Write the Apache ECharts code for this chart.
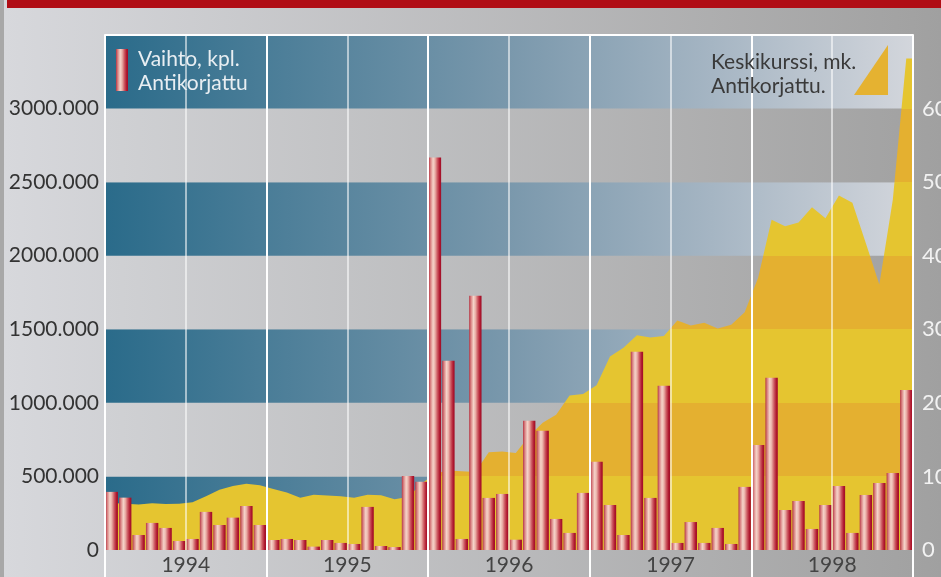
<!DOCTYPE html>
<html><head><meta charset="utf-8">
<script src="https://cdn.jsdelivr.net/npm/echarts@6/dist/echarts.min.js"></script>
<style>
html,body{margin:0;padding:0;width:941px;height:577px;overflow:hidden;}
body{background:linear-gradient(to right,#a8a8a8 0px,#a8a8a8 4px,#d7d8dc 4px,#a2a2a2 913px,#a0a0a0 941px);}
#chart{width:941px;height:577px;}
</style></head><body><div id="chart"></div>
<script>
// ---- data ----
const years = ['1994', '1995', '1996', '1997', '1998'];
const monthNames = ['01','02','03','04','05','06','07','08','09','10','11','12'];
const months = [];
years.forEach(y => monthNames.forEach(m => months.push(y + '-' + m)));

// Vaihto, kpl. (monthly trading volume, pieces)
const volume = [
  395000, 356000, 102000, 184000, 150000, 61000, 75000, 259000, 170000, 220000, 299000, 170000,
  68000, 75000, 68000, 23000, 68000, 48000, 41000, 293000, 27000, 20000, 503000, 463000,
  2667000, 1286000, 75000, 1728000, 354000, 381000, 70000, 878000, 810000, 211000, 116000, 388000,
  599000, 306000, 102000, 1347000, 354000, 1116000, 48000, 190000, 48000, 150000, 41000, 429000,
  714000, 1170000, 272000, 333000, 143000, 306000, 435000, 116000, 374000, 456000, 524000, 1088000
];

// Keskikurssi, mk. (monthly average price)
const priceStart = 6.4;
const price = [
  6.4, 6.3, 6.2, 6.35, 6.25, 6.3, 6.5, 7.3, 8.2, 8.7, 9.0, 8.8,
  8.3, 7.8, 7.1, 7.5, 7.4, 7.3, 7.1, 7.5, 7.45, 6.9, 7.2, 9.0,
  10.4, 10.8, 10.7, 10.6, 13.3, 13.4, 13.2, 15.5, 17.3, 18.4, 21.0, 21.2,
  22.4, 26.3, 27.5, 29.2, 28.9, 29.1, 31.2, 30.5, 30.9, 30.1, 30.6, 32.3,
  37.0, 44.9, 44.0, 44.5, 46.6, 45.1, 48.2, 47.2, 41.7, 36.1, 47.6, 66.8
];
const priceEnd = 66.8;

const volumeMax = 3500000, volumeStep = 500000;
const priceMax = 70, priceStep = 10;

// ---- build ----
const priceData = [[0, priceStart]]
  .concat(price.map((v, i) => [i + 0.5, v]))
  .concat([[months.length, priceEnd]]);

const barGrad = {
  type: 'linear', x: 0, y: 0, x2: 1, y2: 0,
  colorStops: [
    {offset: 0, color: '#b53645'}, {offset: 0.15, color: '#d98383'},
    {offset: 0.35, color: '#f5d3c9'}, {offset: 0.5, color: '#ebb2aa'},
    {offset: 0.7, color: '#cc5860'}, {offset: 0.88, color: '#b0182f'},
    {offset: 1, color: '#9e0c26'}
  ]
};
const blueBand = {
  type: 'linear', x: 0, y: 0, x2: 1, y2: 0,
  colorStops: [
    {offset: 0, color: '#2a6b8a'}, {offset: 0.5, color: '#7a98ac'},
    {offset: 0.75, color: '#a5b5c3'}, {offset: 1, color: '#d3d6dc'}
  ]
};
const grayBand = {
  type: 'linear', x: 0, y: 0, x2: 1, y2: 0,
  colorStops: [{offset: 0, color: '#d0d1d4'}, {offset: 1, color: '#a2a2a2'}]
};
const YEL = '#e5c530', ORA = '#e4b030';
const pieces = [];
for (let v = 0; v < priceMax; v += priceStep) {
  pieces.push({gte: v, lt: v + priceStep, color: (v / priceStep) % 2 === 0 ? YEL : ORA});
}
pieces[pieces.length - 1].lte = priceMax;

const FONT = 'Lato, "Open Sans", sans-serif';
const chart = echarts.init(document.getElementById('chart'));
chart.setOption({
  backgroundColor: 'transparent',
  animation: false,
  grid: {left: 105, right: 28, top: 35, bottom: 27, containLabel: false, outerBoundsMode: 'none'},
  xAxis: [
    {type: 'category', data: months, show: false},
    {type: 'value', position: 'bottom', min: 0, max: months.length, interval: 6, z: 3,
      axisLine: {show: false, onZero: false}, axisTick: {show: false},
      splitLine: {show: true, lineStyle: {color: 'rgba(255,255,255,0.55)', width: 2}},
      axisLabel: {margin: 5, color: '#444', fontSize: 21, fontFamily: FONT,
        formatter: v => (v % 12 === 6) ? years[(v - 6) / 12] : ''}},
    {type: 'value', position: 'bottom', min: 0, max: months.length, interval: 12, z: 4,
      axisLine: {show: false, onZero: false},
      axisTick: {show: true, length: 27, lineStyle: {color: '#ffffff', width: 2}},
      splitLine: {show: true, lineStyle: {color: '#ffffff', width: 2}},
      axisLabel: {show: false}},
    {type: 'value', position: 'top', min: 0, max: months.length, z: 4,
      axisLine: {show: true, onZero: false, lineStyle: {color: '#ffffff', width: 2}},
      axisTick: {show: false}, splitLine: {show: false}, axisLabel: {show: false}}
  ],
  yAxis: [
    {type: 'value', min: 0, max: volumeMax, interval: volumeStep, position: 'left',
      axisLine: {show: false, onZero: false}, axisTick: {show: false},
      splitLine: {show: false},
      splitArea: {show: true, areaStyle: {color: [blueBand, grayBand]}},
      axisLabel: {margin: 6, color: '#333', fontSize: 21, fontFamily: FONT,
        formatter: v => v >= volumeMax ? '' : (v === 0 ? '0' : (v / 1000) + '.000')}},
    {type: 'value', min: 0, max: priceMax, interval: priceStep, position: 'right',
      axisLine: {show: false, onZero: false}, axisTick: {show: false},
      splitLine: {show: false},
      axisLabel: {margin: 9, color: '#f2f2f2', fontSize: 22, fontFamily: FONT,
        formatter: v => v >= priceMax ? '' : String(v)}}
  ],
  visualMap: {type: 'piecewise', show: false, seriesIndex: 1, dimension: 1, pieces: pieces},
  series: [
    {name: 'Vaihto, kpl.', type: 'bar', xAxisIndex: 0, yAxisIndex: 0, data: volume,
      barWidth: '92%', z: 2, itemStyle: {color: barGrad}},
    {name: 'Keskikurssi, mk.', type: 'line', xAxisIndex: 1, yAxisIndex: 1, data: priceData,
      showSymbol: false, z: 1, lineStyle: {width: 0}, areaStyle: {opacity: 1}}
  ],
  graphic: [
    {type: 'rect', shape: {x: 7, y: 0, width: 934, height: 8}, style: {fill: '#b00d15'}, z: 10},
    {type: 'rect', shape: {x: 116, y: 49, width: 12, height: 42}, style: {fill: barGrad}, z: 10},
    {type: 'text', x: 138, y: 47, z: 10,
      style: {text: 'Vaihto, kpl.\nAntikorjattu', fill: '#e8eef2', font: '21px ' + FONT,
        lineHeight: 24, verticalAlign: 'top'}},
    {type: 'text', x: 711, y: 50, z: 10,
      style: {text: 'Keskikurssi, mk.\nAntikorjattu.', fill: '#3a3a3a', font: '21px ' + FONT,
        lineHeight: 24, verticalAlign: 'top'}},
    {type: 'polygon', shape: {points: [[854, 95], [888, 45], [888, 95]]}, style: {fill: '#e5b231'}, z: 10}
  ]
});
</script></body></html>
